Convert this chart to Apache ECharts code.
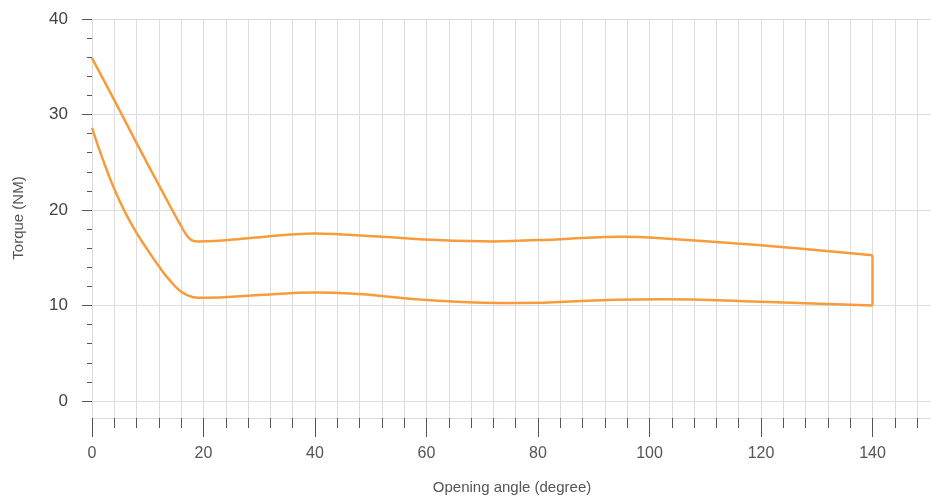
<!DOCTYPE html>
<html>
<head>
<meta charset="utf-8">
<script src="https://cdn.jsdelivr.net/npm/echarts@6/dist/echarts.min.js"></script>
<style>
  html, body { margin: 0; padding: 0; background: #fff; }
  #main { width: 931px; height: 497px; }
</style>
</head>
<body>
<div id="main"></div>
<script>
// upper envelope (angle, torque)
var upperAngle = [0, 4, 8, 12, 16, 17.5, 19, 22, 28, 40, 52, 62, 72, 84, 95, 102, 120, 140];
var upperTorque = [35.9, 31.5, 27.0, 22.6, 18.3, 17.0, 16.7, 16.75, 17.05, 17.55, 17.2, 16.85, 16.7, 16.95, 17.2, 17.05, 16.3, 15.25];
// lower envelope
var lowerAngle = [0, 2, 4, 6, 8, 10, 12, 14, 16, 18, 20, 30, 40, 62, 76, 94, 102, 120, 140];
var lowerTorque = [28.6, 25.2, 22.2, 19.7, 17.6, 15.8, 14.1, 12.6, 11.45, 10.9, 10.8, 11.1, 11.35, 10.5, 10.25, 10.6, 10.65, 10.4, 10.0];
// closing edge at max angle
var endAngle = 140;

var lineColor = '#f79c3c';
var gridColor = '#dcdcdc';
var tickColor = '#555';
var font = 'Liberation Sans';

function pairs(xs, ys) {
    return xs.map(function (x, i) { return [x, ys[i]]; });
}

var dom = document.getElementById('main');
var myChart = echarts.init(dom);

// x runs past the right edge of the canvas, as in the original
var option = {
    animation: false,
    grid: [
        { left: 92, right: -53, top: 19, bottom: 96, outerBoundsMode: 'none' },
        { left: 92, right: -53, top: 401, bottom: 79, outerBoundsMode: 'none' }
    ],
    xAxis: [
        {
            gridIndex: 0,
            type: 'value',
            min: 0,
            max: 160,
            interval: 20,
            axisLine: { show: false },
            axisTick: { show: false },
            axisLabel: { show: false },
            splitLine: { show: true, lineStyle: { color: gridColor, width: 1 } },
            minorTick: { show: false, splitNumber: 5 },
            minorSplitLine: { show: true, lineStyle: { color: gridColor, width: 1 } }
        },
        {
            gridIndex: 1,
            type: 'value',
            min: 0,
            max: 160,
            interval: 20,
            name: 'Opening angle (degree)',
            nameLocation: 'middle',
            nameGap: 62,
            nameTextStyle: { color: '#555', fontSize: 15, fontFamily: font, padding: [0, 52, 0, 0] },
            axisLine: { show: true, lineStyle: { color: gridColor, width: 1 } },
            axisTick: { show: true, length: 19, lineStyle: { color: tickColor, width: 1 } },
            minorTick: { show: true, splitNumber: 5, length: 10, lineStyle: { color: tickColor, width: 1 } },
            axisLabel: { color: '#555', fontSize: 16, fontFamily: font, margin: 28 },
            splitLine: { show: true, lineStyle: { color: gridColor, width: 1 } },
            minorSplitLine: { show: true, lineStyle: { color: gridColor, width: 1 } }
        }
    ],
    yAxis: [
        {
            gridIndex: 0,
            type: 'value',
            min: 0,
            max: 40,
            interval: 10,
            name: 'Torque (NM)',
            nameLocation: 'middle',
            nameGap: 66,
            nameTextStyle: { color: '#555', fontSize: 15, fontFamily: font, padding: [0, 16, 0, 0] },
            axisLine: { show: false },
            axisTick: { show: true, length: 10, lineStyle: { color: tickColor, width: 1 } },
            minorTick: { show: true, splitNumber: 5, length: 5, lineStyle: { color: tickColor, width: 1 } },
            axisLabel: { color: '#444', fontSize: 17, fontFamily: font, margin: 24 },
            splitLine: { show: true, lineStyle: { color: gridColor, width: 1 } }
        },
        {
            gridIndex: 1,
            type: 'value',
            min: 0,
            max: 1,
            show: false
        }
    ],
    series: [
        {
            type: 'line',
            data: pairs(upperAngle, upperTorque),
            smooth: 0.35,
            symbol: 'none',
            lineStyle: { color: lineColor, width: 2.5 }
        },
        {
            type: 'line',
            data: pairs(lowerAngle, lowerTorque),
            smooth: 0.5,
            symbol: 'none',
            lineStyle: { color: lineColor, width: 2.5 }
        },
        {
            type: 'line',
            data: [[endAngle, upperTorque[upperTorque.length - 1]], [endAngle, lowerTorque[lowerTorque.length - 1]]],
            symbol: 'none',
            lineStyle: { color: lineColor, width: 2.5 }
        }
    ]
};

myChart.setOption(option, true);
</script>
</body>
</html>
